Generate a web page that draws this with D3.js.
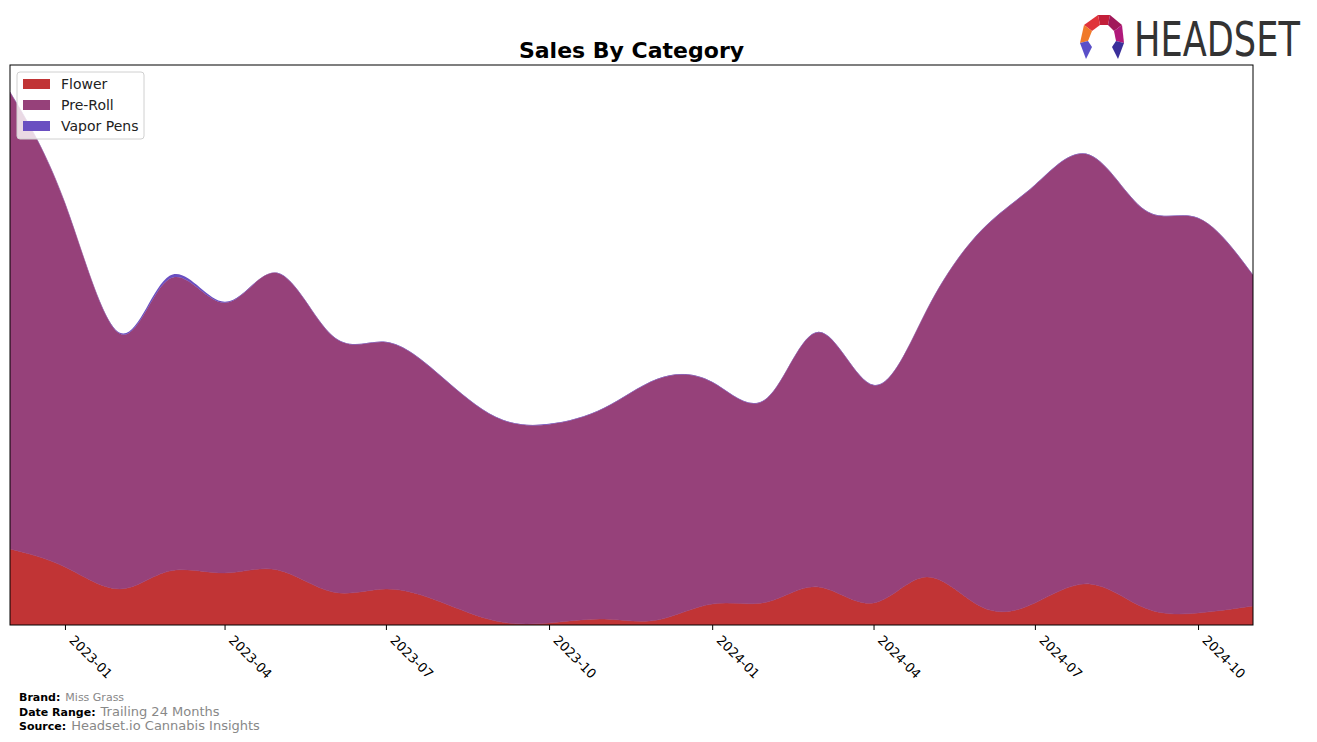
<!DOCTYPE html>
<html>
<head>
<meta charset="utf-8">
<script src="https://cdn.jsdelivr.net/npm/d3@7"></script>
<style>
  body { margin: 0; background: #fff; }
  text { font-family: "DejaVu Sans", sans-serif; }
</style>
</head>
<body>
<div id="chart"></div>
<script>
// monthly data, Dec 2022 .. Nov 2024
var months = ["2022-12","2023-01","2023-02","2023-03","2023-04","2023-05","2023-06","2023-07",
  "2023-08","2023-09","2023-10","2023-11","2023-12","2024-01","2024-02","2024-03","2024-04",
  "2024-05","2024-06","2024-07","2024-08","2024-09","2024-10","2024-11"];
var flower = [76, 58, 36, 54, 52, 55, 33, 36, 23, 4, 2, 6, 5, 21, 23, 38, 22, 48, 18, 22, 41, 17, 12, 19];
var preRoll = [456.5, 363.5, 255, 292, 270, 296.5, 255.5, 246.5, 225.5, 203.5, 198.5, 210.5, 240.5,
  221.5, 203.5, 254.5, 217.5, 266.5, 376.5, 417.5, 428.5, 397.5, 394.5, 330.5];
var vaporPens = [0.5, 0.5, 1, 3, 1, 0.5, 0.5, 0.5, 0.5, 0.5, 0.5, 0.5, 0.5, 0.5, 0.5, 0.5, 0.5,
  0.5, 0.5, 0.5, 0.5, 0.5, 0.5, 0.5];
var categories = ["Flower", "Pre-Roll", "Vapor Pens"];
var colors = ["#c13435", "#96417a", "#6a4fc1"];
var tickMonths = ["2023-01","2023-04","2023-07","2023-10","2024-01","2024-04","2024-07","2024-10"];

var W = 1317, H = 742;
var plotL = 10, plotR = 1253, plotT = 65, plotB = 625;
var parse = d3.timeParse("%Y-%m");

var rows = months.map(function(m, i) {
  return { date: parse(m), "Flower": flower[i], "Pre-Roll": preRoll[i], "Vapor Pens": vaporPens[i] };
});

var svg = d3.select("#chart").append("svg").attr("width", W).attr("height", H);

var x = d3.scaleTime().domain(d3.extent(rows, function(d) { return d.date; })).range([plotL, plotR]);
var maxTotal = d3.max(rows, function(d) { return d["Flower"] + d["Pre-Roll"] + d["Vapor Pens"]; });
var y = d3.scaleLinear().domain([0, maxTotal * 1.05]).range([plotB, plotT]);

var series = d3.stack().keys(categories)(rows);

var area = d3.area()
  .x(function(d) { return x(d.data.date); })
  .y0(function(d) { return y(d[0]); })
  .y1(function(d) { return y(d[1]); })
  .curve(d3.curveNatural);

svg.append("defs").append("clipPath").attr("id", "clip")
  .append("rect").attr("x", plotL).attr("y", plotT).attr("width", plotR - plotL).attr("height", plotB - plotT);

svg.append("g").attr("clip-path", "url(#clip)")
  .selectAll("path").data(series).enter().append("path")
  .attr("d", area)
  .attr("fill", function(d, i) { return colors[i]; })
  .attr("stroke", function(d, i) { return i < 2 ? colors[i] : "none"; })
  .attr("stroke-width", 0.5);

// frame
svg.append("rect").attr("x", plotL).attr("y", plotT).attr("width", plotR - plotL).attr("height", plotB - plotT)
  .attr("fill", "none").attr("stroke", "#000").attr("stroke-width", 1);

// x axis
var xAxis = svg.append("g").attr("transform", "translate(0," + plotB + ")")
  .call(d3.axisBottom(x).tickValues(tickMonths.map(parse)).tickFormat(d3.timeFormat("%Y-%m")).tickSizeOuter(0).tickSize(5));
xAxis.select(".domain").remove();
xAxis.selectAll("line").attr("stroke", "#000");
xAxis.selectAll("text")
  .attr("font-size", 13).attr("fill", "#000")
  .attr("text-anchor", "start")
  .attr("dy", null).attr("y", null)
  .attr("transform", "translate(3,16) rotate(45)");

// title
svg.append("text").attr("x", (plotL + plotR) / 2).attr("y", 58).attr("text-anchor", "middle")
  .attr("font-size", 22).attr("font-weight", "bold").text("Sales By Category");

// legend
var lg = svg.append("g").attr("transform", "translate(17,72)");
lg.append("rect").attr("width", 127).attr("height", 67).attr("rx", 3)
  .attr("fill", "#fff").attr("fill-opacity", 0.8).attr("stroke", "#d0d0d0");
categories.forEach(function(c, i) {
  lg.append("rect").attr("x", 6).attr("y", 7 + i * 21).attr("width", 27).attr("height", 10).attr("fill", colors[i]);
  lg.append("text").attr("x", 44).attr("y", 17 + i * 21).attr("font-size", 14).attr("fill", "#222").text(c);
});

// footer
var foot = [["Brand:", "Miss Grass", 11], ["Date Range:", "Trailing 24 Months", 13], ["Source:", "Headset.io Cannabis Insights", 13]];
foot.forEach(function(f, i) {
  var t = svg.append("text").attr("x", 19).attr("y", 701 + i * 14.5);
  t.append("tspan").attr("font-size", 11).attr("font-weight", "bold").attr("fill", "#000").text(f[0]);
  t.append("tspan").attr("dx", 5).attr("font-size", f[2]).attr("fill", "#888").text(f[1]);
});

// logo
var logo = svg.append("g").attr("transform", "translate(1102,37)");
var segs = [
  { pts: [[-4,-22],[8,-22],[6,-12],[-2,-12]], c: "#c21f3a" },
  { pts: [[8,-22],[20,-12],[12,-6],[6,-12]], c: "#a0185a" },
  { pts: [[20,-12],[22,6],[14,4],[12,-6]], c: "#b0197a" },
  { pts: [[-4,-22],[-18,-12],[-10,-6],[-2,-12]], c: "#e0333a" },
  { pts: [[-18,-12],[-22,6],[-14,4],[-10,-6]], c: "#f07a2a" },
  { pts: [[-22,6],[-14,4],[-10,10],[-16,22]], c: "#5a4fc8" },
  { pts: [[22,6],[14,4],[10,10],[16,22]], c: "#3a2f9a" }
];
segs.forEach(function(s) {
  logo.append("polygon").attr("points", s.pts.map(function(p) { return p.join(","); }).join(" ")).attr("fill", s.c);
});
var brandG = svg.append("g");
var brandT = brandG.append("text").attr("x", 0).attr("y", 0)
  .attr("font-family", "'Liberation Sans Narrow', 'DejaVu Sans Condensed', sans-serif")
  .attr("font-size", 48).attr("fill", "#333").text("HEADSET");
var natural = brandT.node().getComputedTextLength();
brandG.attr("transform", "translate(1134,56) scale(" + (166 / natural) + ",1)");
</script>
</body>
</html>
